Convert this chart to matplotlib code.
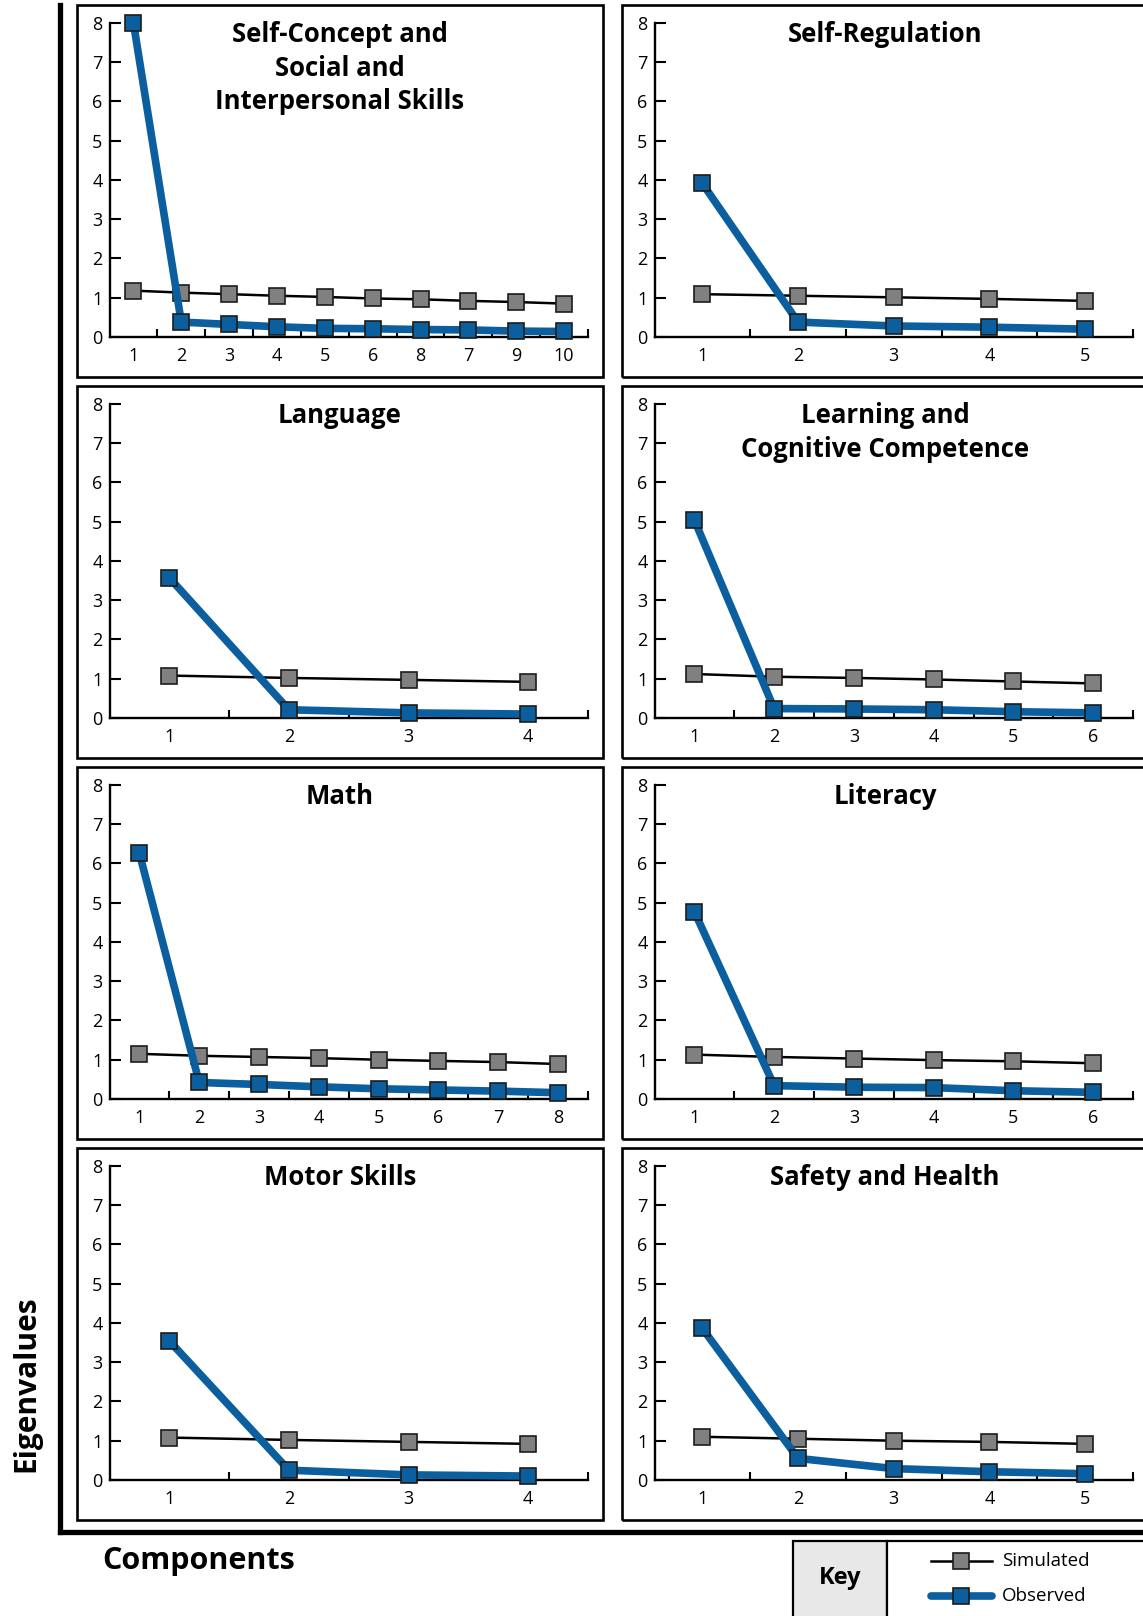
import matplotlib
matplotlib.use("Agg")
import matplotlib.pyplot as plt
from matplotlib.patches import Rectangle
from matplotlib.lines import Line2D

#FIGURE SIZE (pixels)
W, H = 1143, 1616

#DATA
titles = ["Self-Concept and\nSocial and\nInterpersonal Skills", "Self-Regulation",
          "Language", "Learning and\nCognitive Competence",
          "Math", "Literacy",
          "Motor Skills", "Safety and Health"]

selfconcept_labels = ["1", "2", "3", "4", "5", "6", "8", "7", "9", "10"]
selfconcept_sim = [1.18, 1.13, 1.09, 1.05, 1.02, 0.98, 0.96, 0.92, 0.89, 0.85]
selfconcept_obs = [8.0, 0.38, 0.32, 0.26, 0.22, 0.21, 0.19, 0.18, 0.15, 0.14]

selfreg_labels = ["1", "2", "3", "4", "5"]
selfreg_sim = [1.09, 1.05, 1.01, 0.97, 0.92]
selfreg_obs = [3.91, 0.38, 0.28, 0.25, 0.20]

language_labels = ["1", "2", "3", "4"]
language_sim = [1.08, 1.02, 0.97, 0.92]
language_obs = [3.57, 0.21, 0.13, 0.10]

learning_labels = ["1", "2", "3", "4", "5", "6"]
learning_sim = [1.12, 1.05, 1.02, 0.98, 0.93, 0.88]
learning_obs = [5.04, 0.24, 0.23, 0.21, 0.16, 0.13]

math_labels = ["1", "2", "3", "4", "5", "6", "7", "8"]
math_sim = [1.15, 1.10, 1.07, 1.04, 1.00, 0.97, 0.94, 0.89]
math_obs = [6.25, 0.42, 0.37, 0.31, 0.26, 0.23, 0.20, 0.16]

literacy_labels = ["1", "2", "3", "4", "5", "6"]
literacy_sim = [1.13, 1.07, 1.03, 0.99, 0.96, 0.91]
literacy_obs = [4.77, 0.34, 0.30, 0.29, 0.21, 0.17]

motor_labels = ["1", "2", "3", "4"]
motor_sim = [1.08, 1.02, 0.97, 0.92]
motor_obs = [3.54, 0.25, 0.13, 0.10]

safety_labels = ["1", "2", "3", "4", "5"]
safety_sim = [1.10, 1.05, 1.00, 0.97, 0.92]
safety_obs = [3.86, 0.55, 0.29, 0.21, 0.16]

all_labels = [selfconcept_labels, selfreg_labels, language_labels, learning_labels,
              math_labels, literacy_labels, motor_labels, safety_labels]
all_sim = [selfconcept_sim, selfreg_sim, language_sim, learning_sim,
           math_sim, literacy_sim, motor_sim, safety_sim]
all_obs = [selfconcept_obs, selfreg_obs, language_obs, learning_obs,
           math_obs, literacy_obs, motor_obs, safety_obs]

#STYLE
blue = "#0b5f9e"
gray = "#808080"
edge = "#1c1c1c"

plt.rcParams['font.family'] = ['Open Sans', 'DejaVu Sans']


def fx(x):  # pixel -> figure fraction
    return x / W


def fy(y):
    return 1 - y / H


fig = plt.figure(figsize=(W / 100, H / 100), dpi=100)

panel_lefts = [77, 622]
row_tops = [5, 386, 767, 1148]
panel_w, panel_h = 526, 372

for i in range(8):
    left = panel_lefts[i % 2]
    top = row_tops[i // 2]

    #panel frame
    fig.add_artist(Rectangle((fx(left), fy(top + panel_h)), panel_w / W, panel_h / H,
                             transform=fig.transFigure, fill=False, ec="black", lw=1.9))

    #axes inside the panel
    ax = fig.add_axes([fx(left + 32.5), fy(top + 332), 478.5 / W, 314.3 / H])
    n = len(all_labels[i])
    x = list(range(1, n + 1))

    ax.plot(x, all_sim[i], color="black", lw=1.8, marker="s", ms=11.5,
            mfc=gray, mec=edge, mew=1.2, clip_on=False, zorder=3)
    ax.plot(x, all_obs[i], color=blue, lw=5.5, marker="s", ms=11.5,
            mfc=blue, mec=edge, mew=1.2, clip_on=False, zorder=4)

    ax.set_xlim(0.5, n + 0.5)
    ax.set_ylim(0, 8)
    ax.set_yticks(range(9))
    ax.set_xticks([k + 0.5 for k in x])
    ax.set_xticks(x, labels=all_labels[i], minor=True)
    ax.tick_params(axis="y", direction="in", length=8, width=1.5, pad=5, labelsize=13)
    ax.tick_params(axis="x", which="major", direction="in", length=6, width=1.5,
                   labelbottom=False)
    ax.tick_params(axis="x", which="minor", length=0, pad=7, labelsize=13)
    for s in ["top", "right"]:
        ax.spines[s].set_visible(False)
    for s in ["left", "bottom"]:
        ax.spines[s].set_linewidth(1.7)
    ax.patch.set_alpha(0)

    #title
    fig.text(fx(left + 263), fy(top + 16), titles[i], ha="center", va="top",
             fontsize=18.5, fontweight="bold", linespacing=1.32)

#BIG L FRAME
fig.add_artist(Line2D([fx(59.5), fx(59.5)], [fy(5), fy(1531.5)], color="black", lw=3.8,
                      transform=fig.transFigure, solid_capstyle="projecting"))
fig.add_artist(Line2D([fx(59.5), fx(1150)], [fy(1531.5), fy(1531.5)], color="black", lw=3.8,
                      transform=fig.transFigure, solid_capstyle="projecting"))

#AXIS NAMES
fig.text(fx(26), fy(1384), "Eigenvalues", rotation=90, ha="center", va="center",
         fontsize=21.5, fontweight="bold")
fig.text(fx(199), fy(1561), "Components", ha="center", va="center",
         fontsize=22, fontweight="bold")

#KEY BOX
fig.add_artist(Rectangle((fx(793), fy(1700)), 94 / W, 159 / H, transform=fig.transFigure,
                         fc="#e8e8e8", ec="black", lw=1.6))
fig.add_artist(Rectangle((fx(887), fy(1700)), 400 / W, 159 / H, transform=fig.transFigure,
                         fc="white", ec="black", lw=1.6))
fig.text(fx(840), fy(1578), "Key", ha="center", va="center", fontsize=17, fontweight="bold")

fig.add_artist(Line2D([fx(931), fx(992)], [fy(1561), fy(1561)], color="black", lw=1.8,
                      transform=fig.transFigure))
fig.add_artist(Line2D([fx(961)], [fy(1561)], marker="s", ms=11.5, mfc=gray, mec=edge, mew=1.2,
                      transform=fig.transFigure))
fig.add_artist(Line2D([fx(931), fx(992)], [fy(1596), fy(1596)], color=blue, lw=5.5,
                      solid_capstyle="round", transform=fig.transFigure))
fig.add_artist(Line2D([fx(961)], [fy(1596)], marker="s", ms=11.5, mfc=blue, mec=edge, mew=1.2,
                      transform=fig.transFigure))
fig.text(fx(1002), fy(1561), "Simulated", ha="left", va="center", fontsize=13.5)
fig.text(fx(1002), fy(1596), "Observed", ha="left", va="center", fontsize=13.5)

fig.savefig("out.png", dpi=100)
